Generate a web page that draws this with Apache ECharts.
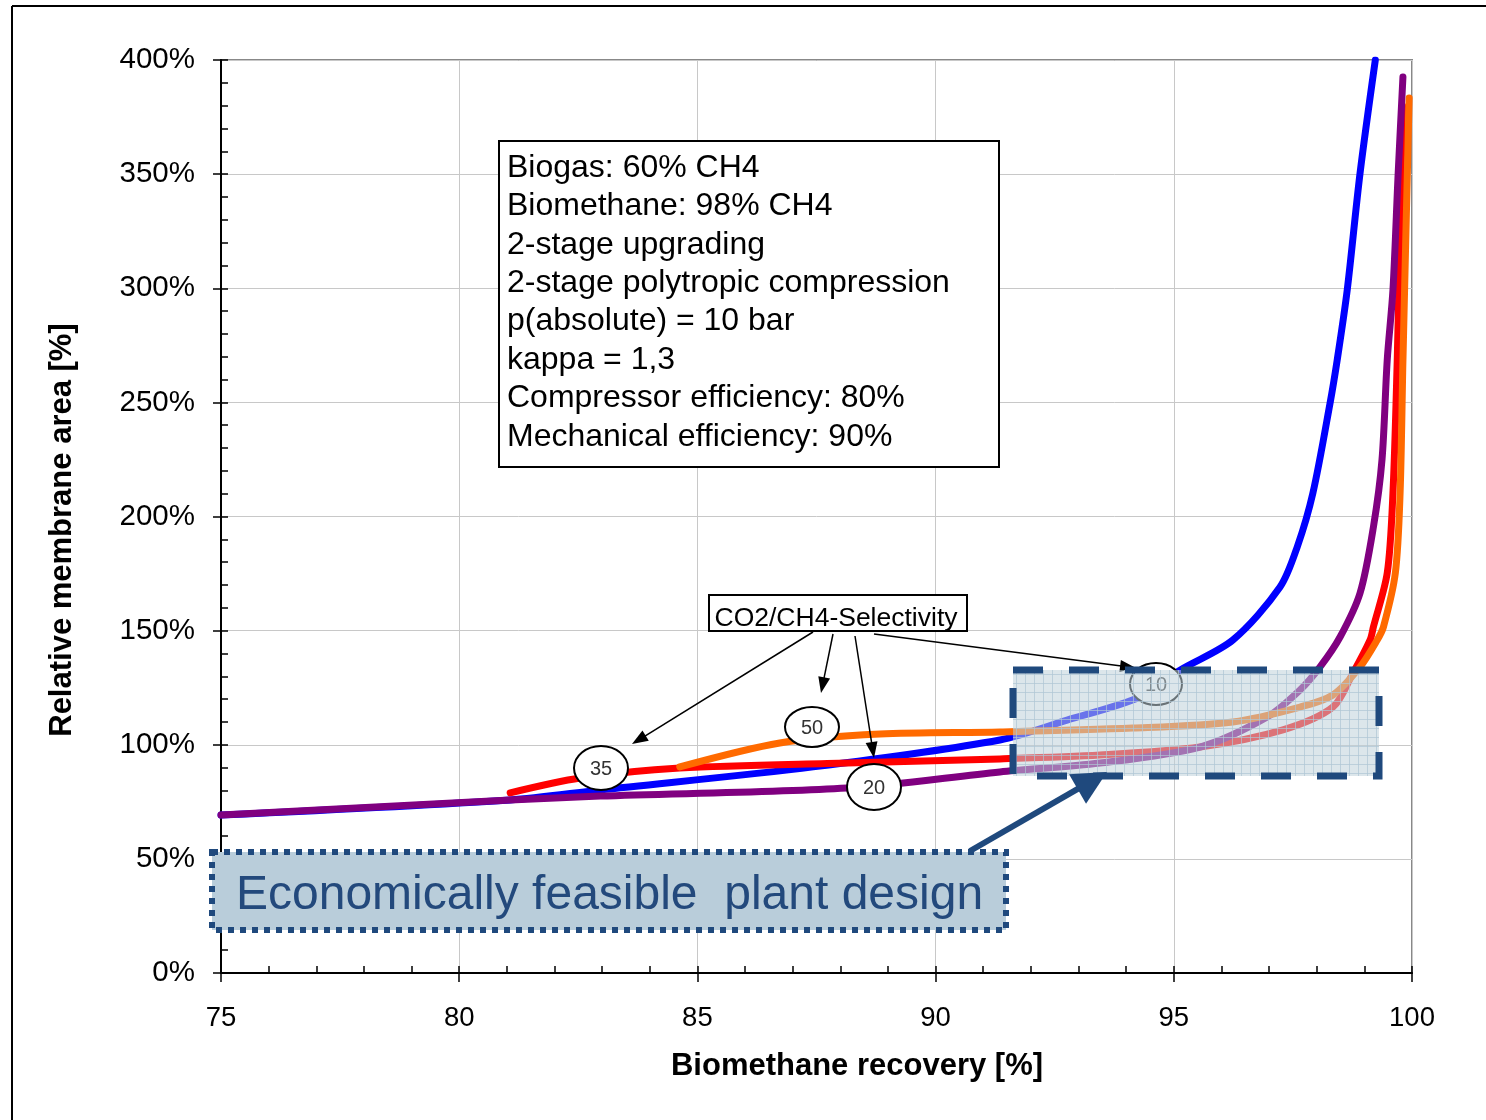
<!DOCTYPE html>
<html><head><meta charset="utf-8">
<script src="https://cdn.jsdelivr.net/npm/echarts@6/dist/echarts.min.js"></script>
<style>html,body{margin:0;padding:0;background:#fff}#c{width:1486px;height:1120px}</style>
</head><body><div id="c"></div>
<script>
// ---- data (Biomethane recovery [%], Relative membrane area [%]) ----
const blueData = [[75,69.2],[81.07,75.8],[82.96,80.2],[87.43,90.3],[91.35,102.1],[92.76,110.8],[94.29,120.9],[95.13,132.7],[96.24,145.9],[97.23,169.1],[97.59,186.6],[97.92,210.3],[98.28,249.7],[98.43,268.6],[98.64,299.2],[98.91,350.5],[99.23,400]];
const redData = [[81.07,78.9],[82.54,85.4],[84.63,89.8],[88.14,92.0],[91.35,93.8],[93.45,95.5],[95.55,99.0],[97.29,106.5],[98.34,116.5],[98.76,131.4],[99.12,145.9],[99.19,151.6],[99.48,175.2],[99.60,210.3],[99.69,268.6],[99.73,306.7],[99.80,380]];
const purpleData = [[75,69.2],[81.07,75.8],[82.96,77.5],[88.14,81.0],[91.35,88.1],[93.45,92.0],[95.55,99.0],[96.96,112.2],[97.65,124.0],[98.07,134.1],[98.49,147.2],[98.91,166.5],[99.19,195.4],[99.37,224.8],[99.48,268.6],[99.60,299.2],[99.71,350.5],[99.81,392.6]];
const orangeData = [[84.63,90.3],[86.73,100.8],[88.83,104.7],[91.35,105.6],[94.14,107.3],[96.24,110.0],[97.65,116.5],[98.34,121.8],[98.91,134.1],[99.27,145.9],[99.40,151.6],[99.65,175.2],[99.75,210.3],[99.81,268.6],[99.94,383.4]];
const xTicks = [75, 80, 85, 90, 95, 100];
const yTicks = [0, 50, 100, 150, 200, 250, 300, 350, 400];
const infoLines = ['Biogas: 60% CH4','Biomethane: 98% CH4','2-stage upgrading','2-stage polytropic compression','p(absolute) = 10 bar','kappa = 1,3','Compressor efficiency: 80%','Mechanical efficiency: 90%'];
const selectivityLabels = ['35','50','20','10'];

const FONT = '"Liberation Sans", Arial, sans-serif';
const chart = echarts.init(document.getElementById('c'), null, {renderer:'canvas'});

function lineSeries(data, color, z) {
  return {type:'line', data:data, symbol:'none', smooth:0.3, z:z,
    lineStyle:{color:color, width:7, cap:'round', join:'round'}, xAxisIndex:0, yAxisIndex:0};
}

// hatch pattern for shaded box
const pc = document.createElement('canvas'); pc.width = 9; pc.height = 9;
const g = pc.getContext('2d');
g.fillStyle = 'rgba(191,210,219,0.55)'; g.fillRect(0,0,9,9);
g.fillStyle = 'rgba(175,198,212,0.7)'; g.fillRect(8,0,1,9); g.fillRect(0,8,9,1);

function arrowHead(x1,y1,x2,y2,len,wid,color,z){
  const a = Math.atan2(y2-y1,x2-x1);
  const bx = x2 - len*Math.cos(a), by = y2 - len*Math.sin(a);
  const px = -Math.sin(a)*wid/2, py = Math.cos(a)*wid/2;
  return {type:'polygon', z:z, shape:{points:[[x2,y2],[bx+px,by+py],[bx-px,by-py]]}, style:{fill:color}};
}
function arrow(x1,y1,x2,y2,w,len,wid,color,z){
  const a = Math.atan2(y2-y1,x2-x1);
  return [{type:'line', z:z, shape:{x1:x1,y1:y1,x2:x2-len*0.8*Math.cos(a),y2:y2-len*0.8*Math.sin(a)}, style:{stroke:color,lineWidth:w}},
          arrowHead(x1,y1,x2,y2,len,wid,color,z)];
}
function ellipse(cx,cy,rx,ry,label,z){
  return [{type:'ellipse', z:z, shape:{cx:cx,cy:cy,rx:rx,ry:ry}, style:{fill:'#fff',stroke:'#000',lineWidth:2}},
          {type:'text', z:z+1, x:cx, y:cy+1, style:{text:label, font:'20px '+FONT, fill:'#333', align:'center', verticalAlign:'middle'}}];
}

const graphics = [];
graphics.push({type:'line', z:200, shape:{x1:12,y1:6,x2:12,y2:1120}, style:{stroke:'#000',lineWidth:2}});
graphics.push({type:'line', z:200, shape:{x1:12,y1:6,x2:1486,y2:6}, style:{stroke:'#000',lineWidth:2}});
// info box
graphics.push({type:'rect', z:70, shape:{x:499,y:141,width:500,height:326}, style:{fill:'#fff',stroke:'#000',lineWidth:2}});
infoLines.forEach((t,i)=>graphics.push({type:'text', z:71, x:507, y:168+i*38.4, style:{text:t, font:'32px '+FONT, fill:'#000', verticalAlign:'middle'}}));
// selectivity box
graphics.push({type:'rect', z:70, shape:{x:709,y:595,width:258,height:36}, style:{fill:'#fff',stroke:'#000',lineWidth:2}});
graphics.push({type:'text', z:71, x:836, y:619, style:{text:'CO2/CH4-Selectivity', font:'26.5px '+FONT, fill:'#000', align:'center', verticalAlign:'middle'}});
// arrow + ellipse to 10 (under overlay)
arrow(874,634,1136,668,1.5,16,12,'#000',50).forEach(e=>graphics.push(e));
ellipse(1156,684,26,21,selectivityLabels[3],50).forEach(e=>graphics.push(e));
// shaded overlay box
graphics.push({type:'rect', z:60, shape:{x:1013,y:670,width:366,height:106}, style:{fill:{image:pc, repeat:'repeat'}, stroke:'#1F497D', lineWidth:7, lineDash:[30,26]}});
// other arrows
arrow(813,632,632,744,1.5,16,12,'#000',70).forEach(e=>graphics.push(e));
arrow(833,634,821,693,1.5,16,12,'#000',70).forEach(e=>graphics.push(e));
arrow(855,636,874,758,1.5,16,12,'#000',70).forEach(e=>graphics.push(e));
ellipse(601,768,27,22,selectivityLabels[0],72).forEach(e=>graphics.push(e));
ellipse(812,727,27,20,selectivityLabels[1],72).forEach(e=>graphics.push(e));
ellipse(874,787,27,23,selectivityLabels[2],72).forEach(e=>graphics.push(e));
// feasible box
graphics.push({type:'rect', z:70, shape:{x:212,y:852,width:794,height:78}, style:{fill:'#B9CDDA', stroke:'#1F497D', lineWidth:6, lineDash:[6,6]}});
graphics.push({type:'text', z:71, x:236, y:896, style:{text:'Economically feasible  plant design', font:'48px '+FONT, fill:'#23497C', verticalAlign:'middle'}});
// blue arrow
arrow(970,851,1107,772,6,34,34,'#1F497D',75).forEach(e=>graphics.push(e));
// axis names
graphics.push({type:'text', z:71, x:857, y:1066, style:{text:'Biomethane recovery [%]', font:'bold 31px '+FONT, fill:'#000', align:'center', verticalAlign:'middle'}});
graphics.push({type:'text', z:71, x:62, y:530, rotation:Math.PI/2, style:{text:'Relative membrane area [%]', font:'bold 31px '+FONT, fill:'#000', align:'center', verticalAlign:'middle'}});

const option = {
  animation:false,
  backgroundColor:'#fff',
  grid:{left:221, top:60, right:74, bottom:147, show:true, borderColor:'#888', borderWidth:2, backgroundColor:'transparent'},
  xAxis:[
    {type:'value', min:xTicks[0], max:xTicks[xTicks.length-1], interval:5,
     axisLine:{lineStyle:{color:'#000',width:2}}, axisTick:{inside:false,length:9,lineStyle:{color:'#000',width:1.5}},
     axisLabel:{fontSize:27.5, fontFamily:FONT, color:'#000', margin:31},
     splitLine:{show:true, lineStyle:{color:'#c8c8c8',width:1}}},
    {type:'value', min:75, max:100, interval:1, position:'bottom',
     axisLine:{show:false}, axisTick:{inside:true,length:7,lineStyle:{color:'#000',width:1.5}},
     axisLabel:{show:false}, splitLine:{show:false}}
  ],
  yAxis:[
    {type:'value', min:yTicks[0], max:yTicks[yTicks.length-1], interval:50,
     axisLine:{show:true,lineStyle:{color:'#000',width:2}}, axisTick:{show:true,inside:false,length:8,lineStyle:{color:'#000',width:1.5}},
     axisLabel:{fontSize:29.5, fontFamily:FONT, color:'#000', margin:26, formatter:'{value}%'},
     splitLine:{show:true, lineStyle:{color:'#c8c8c8',width:1}}},
    {type:'value', min:0, max:400, interval:10, position:'left',
     axisLine:{show:false}, axisTick:{show:true,inside:true,length:7,lineStyle:{color:'#000',width:1.5}},
     axisLabel:{show:false}, splitLine:{show:false}}
  ],
  series:[
    lineSeries(blueData,'#0000FF',3),
    lineSeries(redData,'#FF0000',4),
    lineSeries(purpleData,'#800080',5),
    lineSeries(orangeData,'#FF6A00',6)
  ],
  graphic:graphics
};
chart.setOption(option);
</script></body></html>
